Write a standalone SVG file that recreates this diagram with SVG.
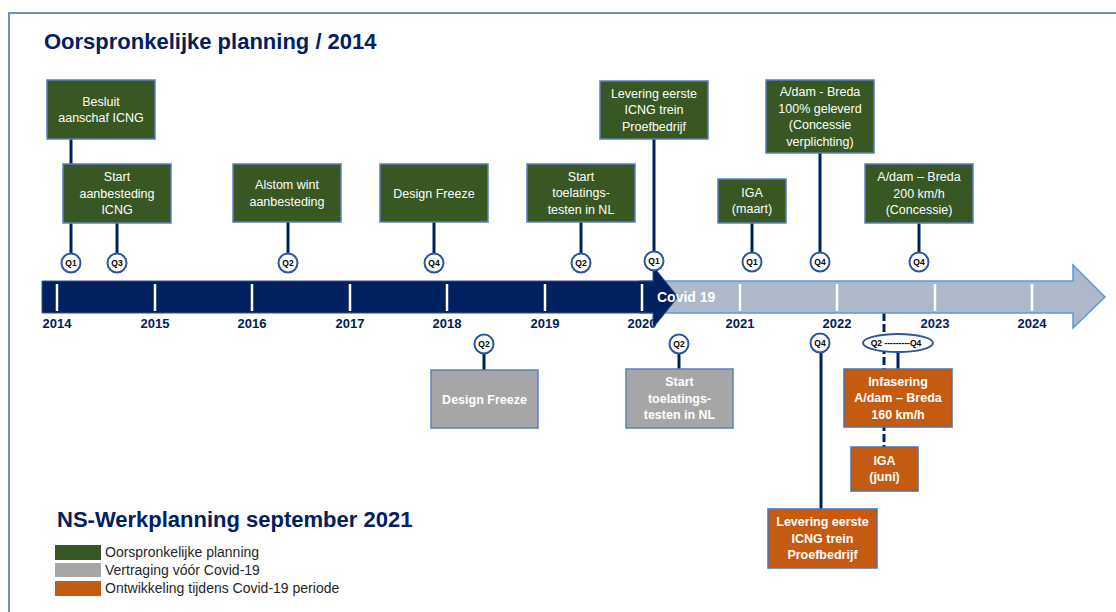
<svg xmlns="http://www.w3.org/2000/svg" width="1116" height="612" viewBox="0 0 1116 612">
<style>
text{font-family:"Liberation Sans",Arial,sans-serif}
.g{fill:#385723;stroke:#5b7fc0;stroke-width:1.5}
.gr{fill:#a6a6a6;stroke:#5b7fc0;stroke-width:1.5}
.o{fill:#c55a11;stroke:#4f71a8;stroke-width:1.5}
.t{fill:#ffffff;font-size:12.5px;text-anchor:middle}
.tb{fill:#ffffff;font-size:12.5px;font-weight:bold;text-anchor:middle}
.c{fill:#ffffff;stroke:#2f5597;stroke-width:2}
.q{fill:#000000;font-size:8.5px;font-weight:bold;text-anchor:middle}
.ln{stroke:#002060;stroke-width:3;fill:none}
.yr{fill:#002060;font-size:13px;font-weight:bold;text-anchor:middle}
.tk{stroke:#ffffff;stroke-width:2.5}
.h{fill:#002060;font-size:22px;font-weight:bold}
.lg{fill:#262626;font-size:14px}
</style>
<rect width="1116" height="612" fill="#ffffff"/>
<path d="M9 612 V13 H1116" fill="none" stroke="#7190c4" stroke-width="2"/>
<text class="h" x="44" y="49">Oorspronkelijke planning / 2014</text>

<g id="connectors">
<line class="ln" x1="71" y1="139" x2="71" y2="254"/>
<line class="ln" x1="117" y1="223" x2="117" y2="254"/>
<line class="ln" x1="288" y1="222" x2="288" y2="254"/>
<line class="ln" x1="434" y1="222" x2="434" y2="254"/>
<line class="ln" x1="581" y1="222" x2="581" y2="254"/>
<line class="ln" x1="654" y1="139" x2="654" y2="252"/>
<line class="ln" x1="752" y1="223" x2="752" y2="253"/>
<line class="ln" x1="820" y1="153" x2="820" y2="253"/>
<line class="ln" x1="919" y1="223" x2="919" y2="253"/>
<line class="ln" x1="484" y1="353" x2="484" y2="370"/>
<line class="ln" x1="679" y1="353" x2="679" y2="369"/>
<line class="ln" x1="821" y1="352" x2="821" y2="509"/>
<line class="ln" x1="884" y1="313" x2="884" y2="447" stroke-dasharray="8 3"/>
<line class="ln" x1="898" y1="351" x2="898" y2="369"/>
</g>

<g id="timeline">
<path d="M640 281 H1073 V265 L1105 297 L1073 328 V313 H640 Z" fill="#adb9ca" stroke="#5b9bd5" stroke-width="1.5"/>
<g>
<text class="yr" x="57" y="328">2014</text>
<text class="yr" x="155" y="328">2015</text>
<text class="yr" x="252" y="328">2016</text>
<text class="yr" x="350" y="328">2017</text>
<text class="yr" x="447" y="328">2018</text>
<text class="yr" x="545" y="328">2019</text>
<text class="yr" x="642" y="328">2020</text>
<text class="yr" x="740" y="328">2021</text>
<text class="yr" x="837" y="328">2022</text>
<text class="yr" x="935" y="328">2023</text>
<text class="yr" x="1032" y="328">2024</text>
</g>
<path d="M42 281 H653 V266 L678 297 L653 328 V313 H42 Z" fill="#002060" stroke="#2f528f" stroke-width="1"/>
<g>
<line class="tk" x1="57" y1="284" x2="57" y2="311"/>
<line class="tk" x1="155" y1="284" x2="155" y2="311"/>
<line class="tk" x1="252" y1="284" x2="252" y2="311"/>
<line class="tk" x1="350" y1="284" x2="350" y2="311"/>
<line class="tk" x1="447" y1="284" x2="447" y2="311"/>
<line class="tk" x1="545" y1="284" x2="545" y2="311"/>
<line class="tk" x1="642" y1="284" x2="642" y2="311"/>
<line class="tk" x1="740" y1="284" x2="740" y2="311"/>
<line class="tk" x1="837" y1="284" x2="837" y2="311"/>
<line class="tk" x1="935" y1="284" x2="935" y2="311"/>
<line class="tk" x1="1032" y1="284" x2="1032" y2="311"/>
</g>
<text x="657" y="302" fill="#ffffff" font-size="14" font-weight="bold">Covid 19</text>
</g>

<g id="q-markers">
<circle class="c" cx="71" cy="263" r="9.5"/><text class="q" x="71" y="266">Q1</text>
<circle class="c" cx="117" cy="263" r="9.5"/><text class="q" x="117" y="266">Q3</text>
<circle class="c" cx="288" cy="263" r="9.5"/><text class="q" x="288" y="266">Q2</text>
<circle class="c" cx="434" cy="263" r="9.5"/><text class="q" x="434" y="266">Q4</text>
<circle class="c" cx="581" cy="263" r="9.5"/><text class="q" x="581" y="266">Q2</text>
<circle class="c" cx="654" cy="261" r="9.5"/><text class="q" x="654" y="264">Q1</text>
<circle class="c" cx="752" cy="262" r="9.5"/><text class="q" x="752" y="265">Q1</text>
<circle class="c" cx="820" cy="262" r="9.5"/><text class="q" x="820" y="265">Q4</text>
<circle class="c" cx="919" cy="262" r="9.5"/><text class="q" x="919" y="265">Q4</text>
<circle class="c" cx="484" cy="344" r="9.5"/><text class="q" x="484" y="347">Q2</text>
<circle class="c" cx="679" cy="344" r="9.5"/><text class="q" x="679" y="347">Q2</text>
<circle class="c" cx="820" cy="343" r="9.5"/><text class="q" x="820" y="346">Q4</text>
<ellipse class="c" cx="898" cy="343" rx="35" ry="9"/><text class="q" x="896" y="346" font-size="9">Q2 ---------Q4</text>
</g>

<g id="n-besluit">
<rect class="g" x="47" y="80" width="108" height="59"/>
<text class="t" x="101" y="105.5">Besluit</text>
<text class="t" x="101" y="122">aanschaf ICNG</text>
</g>
<g id="n-start-aanbesteding">
<rect class="g" x="63" y="164" width="108" height="59"/>
<text class="t" x="117" y="181">Start</text>
<text class="t" x="117" y="197.5">aanbesteding</text>
<text class="t" x="117" y="214">ICNG</text>
</g>
<g id="n-alstom">
<rect class="g" x="233" y="164" width="108" height="58"/>
<text class="t" x="287" y="189">Alstom wint</text>
<text class="t" x="287" y="205.5">aanbesteding</text>
</g>
<g id="n-design-freeze">
<rect class="g" x="380" y="164" width="108" height="58"/>
<text class="t" x="434" y="197.5">Design Freeze</text>
</g>
<g id="n-toelatings">
<rect class="g" x="527" y="164" width="108" height="58"/>
<text class="t" x="581" y="180.5">Start</text>
<text class="t" x="581" y="197">toelatings-</text>
<text class="t" x="581" y="213.5">testen in NL</text>
</g>
<g id="n-levering">
<rect class="g" x="600" y="81" width="108" height="58"/>
<text class="t" x="654" y="97.5">Levering eerste</text>
<text class="t" x="654" y="114">ICNG trein</text>
<text class="t" x="654" y="130.5">Proefbedrijf</text>
</g>
<g id="n-iga-maart">
<rect class="g" x="718" y="179" width="68" height="44"/>
<text class="t" x="752" y="196.75">IGA</text>
<text class="t" x="752" y="213.25">(maart)</text>
</g>
<g id="n-100">
<rect class="g" x="766" y="80" width="108" height="73"/>
<text class="t" x="820" y="96">A/dam - Breda</text>
<text class="t" x="820" y="112.5">100% geleverd</text>
<text class="t" x="820" y="129">(Concessie</text>
<text class="t" x="820" y="145.5">verplichting)</text>
</g>
<g id="n-200">
<rect class="g" x="865" y="164" width="108" height="59"/>
<text class="t" x="919" y="181">A/dam – Breda</text>
<text class="t" x="919" y="197.5">200 km/h</text>
<text class="t" x="919" y="214">(Concessie)</text>
</g>

<g id="n-design-freeze-2">
<rect class="gr" x="431" y="370" width="107" height="58"/>
<text class="tb" x="484.5" y="403.5">Design Freeze</text>
</g>
<g id="n-toelatings-2">
<rect class="gr" x="626" y="369" width="107" height="59"/>
<text class="tb" x="679.5" y="386">Start</text>
<text class="tb" x="679.5" y="402.5">toelatings-</text>
<text class="tb" x="679.5" y="419">testen in NL</text>
</g>
<g id="n-infasering">
<rect class="o" x="844" y="369" width="108" height="58"/>
<text class="tb" x="898" y="385.5">Infasering</text>
<text class="tb" x="898" y="402">A/dam – Breda</text>
<text class="tb" x="898" y="418.5">160 km/h</text>
</g>
<g id="n-iga-juni">
<rect class="o" x="851" y="447" width="67" height="44"/>
<text class="tb" x="884.5" y="464.75">IGA</text>
<text class="tb" x="884.5" y="481.25">(juni)</text>
</g>
<g id="n-levering-2">
<rect class="o" x="768" y="509" width="109" height="59"/>
<text class="tb" x="822.5" y="526">Levering eerste</text>
<text class="tb" x="822.5" y="542.5">ICNG trein</text>
<text class="tb" x="822.5" y="559">Proefbedrijf</text>
</g>

<g id="legend">
<text class="h" x="57" y="527">NS-Werkplanning september 2021</text>
<rect x="55" y="545" width="46" height="15" fill="#385723"/>
<rect x="55" y="563" width="46" height="14" fill="#a6a6a6"/>
<rect x="55" y="581" width="46" height="15" fill="#c55a11"/>
<text class="lg" x="105" y="557">Oorspronkelijke planning</text>
<text class="lg" x="105" y="575">Vertraging vóór Covid-19</text>
<text class="lg" x="105" y="593">Ontwikkeling tijdens Covid-19 periode</text>
</g>
</svg>
